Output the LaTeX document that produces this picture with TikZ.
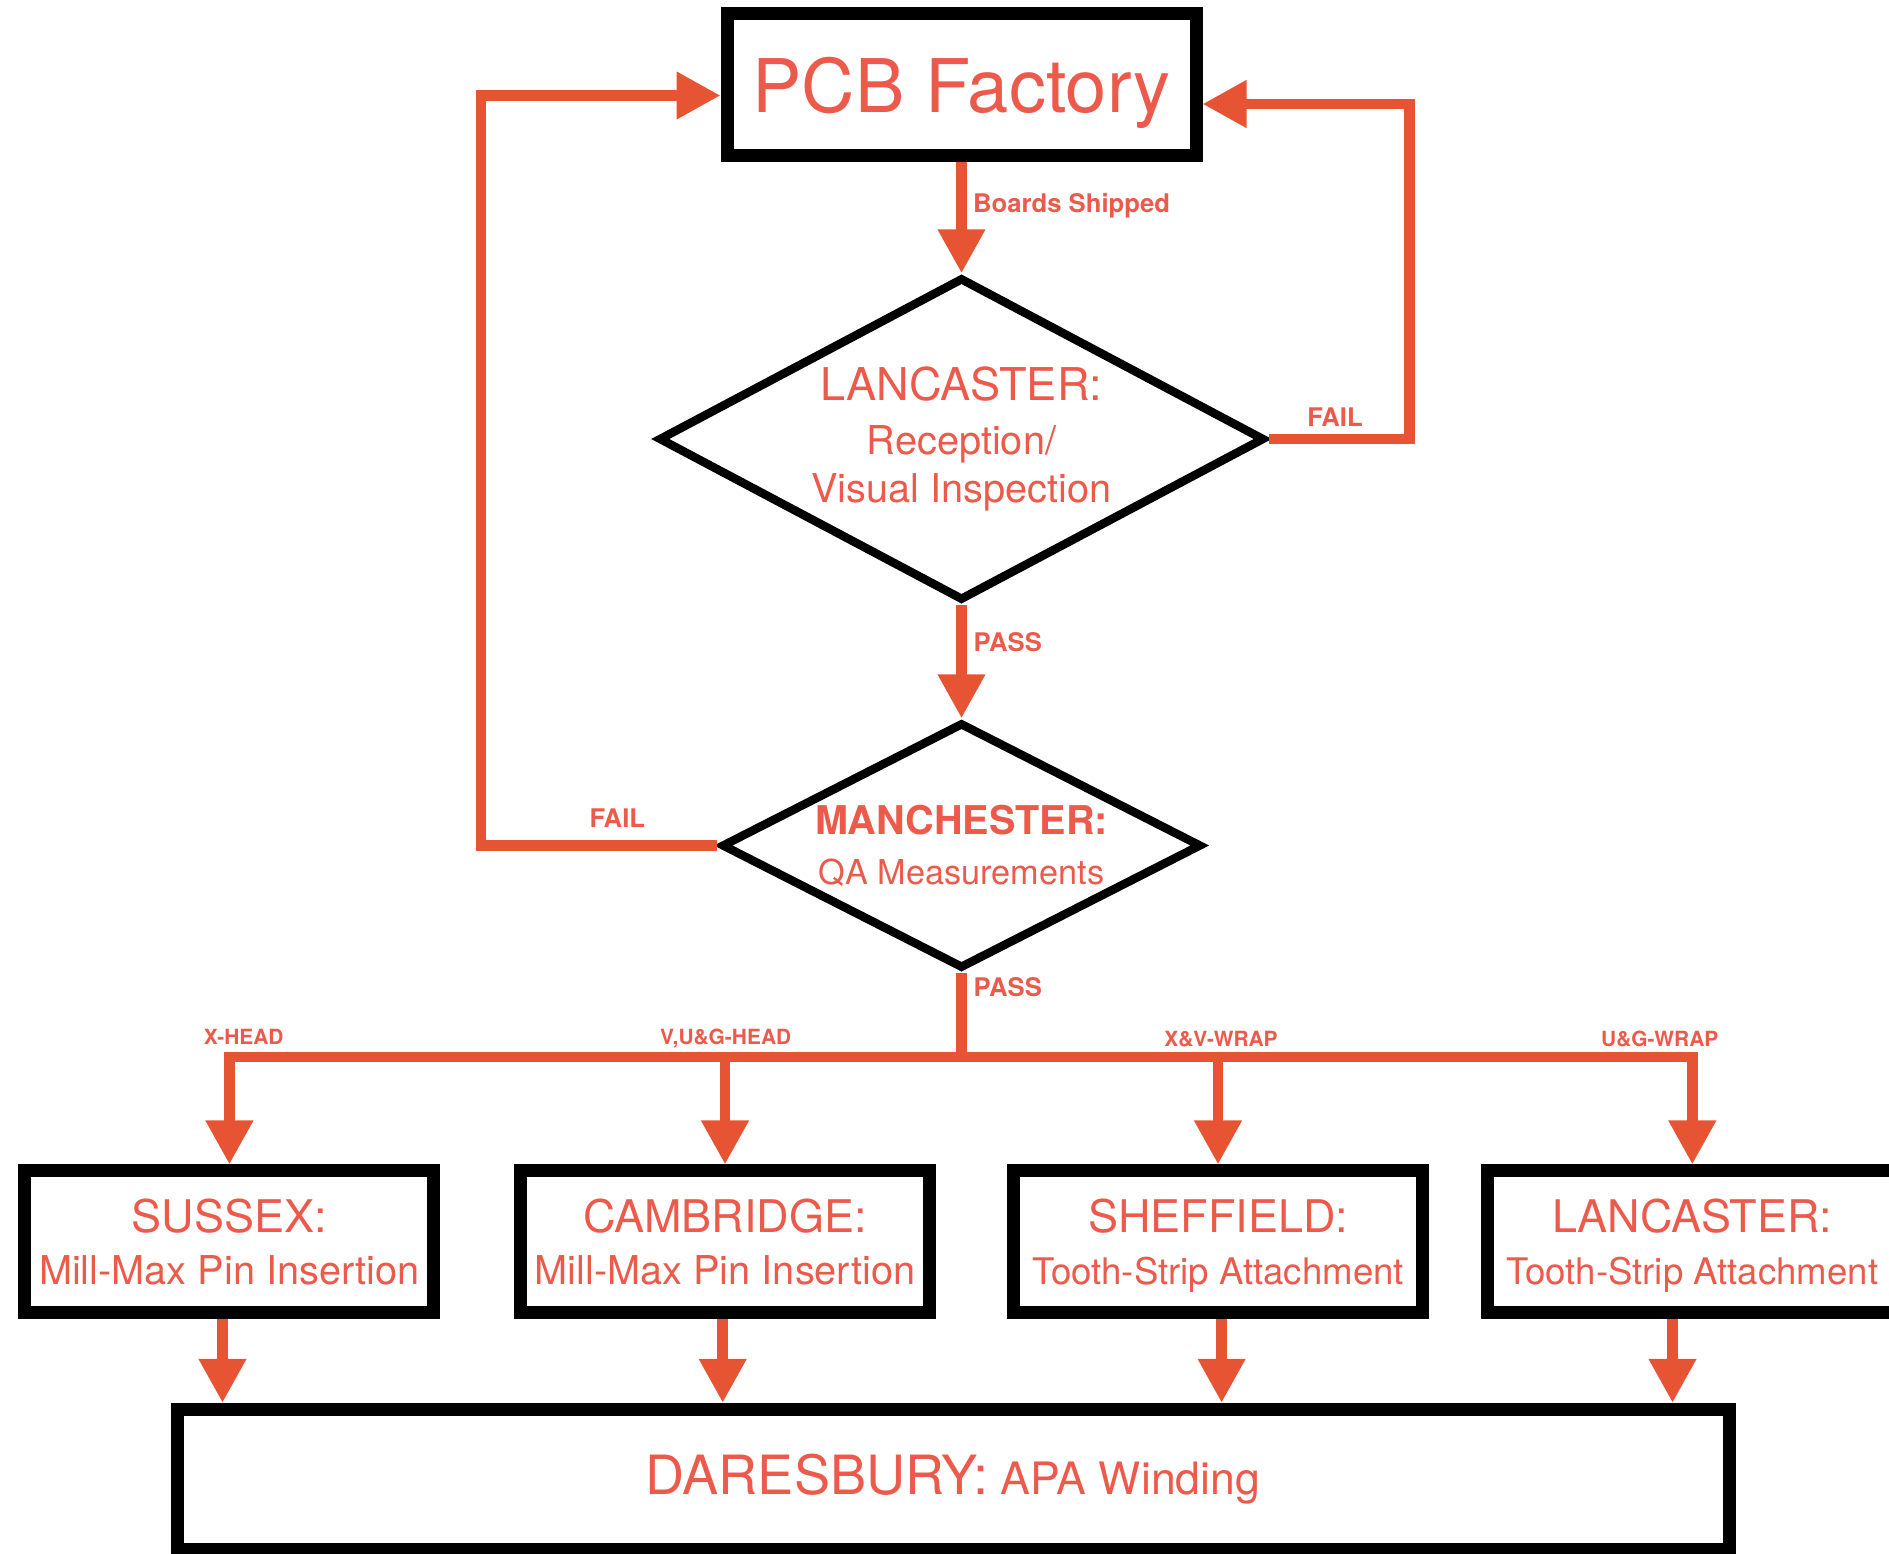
\documentclass[tikz,border=0pt]{standalone}
\usepackage{fontspec}
\setmainfont{TeX Gyre Heros}
\usepackage{xcolor}
\usepackage{tikz}
\usetikzlibrary{arrows.meta, shapes.geometric, calc}
\definecolor{flowred}{RGB}{231,84,52}
\definecolor{textred}{RGB}{236,90,76}
\newcommand{\fsz}[2]{\fontsize{#1pt}{#2pt}\selectfont}

\begin{document}
\begin{tikzpicture}[x=1cm, y=-1cm,
  flow/.style={draw=flowred, line width=0.105cm},
  flowtip/.style={-{Triangle[length=4.4mm, width=4.5mm]}},
  box/.style={draw=black, line width=0.13cm, rectangle, inner sep=0pt, text=textred, align=center},
  site/.style={box, minimum width=4.09cm, minimum height=1.415cm, text depth=0pt},
  decision/.style={draw=black, line width=0.085cm, diamond, inner sep=0pt, text=textred, align=center},
  lbl/.style={text=textred, font=\bfseries\fsz{7.3}{8.8}, inner sep=0pt},
  buslbl/.style={text=textred, font=\bfseries\fsz{5.95}{7}, inner sep=0pt, anchor=base}]
  % page is 18.89 x 15.53 cm, y runs downwards
  \useasboundingbox (0,0) rectangle (18.89,15.53);
  \clip (0,0) rectangle (18.89,15.53);

  % factory and the two checks
  \node[box, minimum width=4.69cm, minimum height=1.42cm, font=\fsz{21.05}{25}, text depth=0pt] (pcb) at (9.615,0.847) {PCB Factory};
  \node[decision, minimum width=6.06cm, minimum height=3.23cm, aspect=1.88, font=\fsz{11.3}{13.5}] (lanc) at (9.615,4.39)
    {{\fsz{12.85}{13.5}LANCASTER:}\\[1.8pt] Reception/\\ Visual Inspection};
  \node[decision, minimum width=4.80cm, minimum height=2.46cm, aspect=1.95, font=\fsz{9.75}{14.2}] (manc) at (9.615,8.455)
    {{\bfseries\fsz{11.27}{14.2}MANCHESTER:}\\ QA Measurements};

  % assembly sites
  \node[site, font=\fsz{11.3}{14.8}] (sussex) at (2.294,12.417) {{\fsz{12.8}{14.8}SUSSEX:}\\ Mill-Max Pin Insertion};
  \node[site, font=\fsz{11.3}{14.8}] (cambridge) at (7.25,12.417) {{\fsz{12.8}{14.8}CAMBRIDGE:}\\ Mill-Max Pin Insertion};
  \node[site, font=\fsz{10.42}{14.8}] (sheffield) at (12.18,12.417) {{\fsz{12.8}{14.8}SHEFFIELD:}\\ Tooth-Strip Attachment};
  \node[site, font=\fsz{10.42}{14.8}] (lancB) at (16.923,12.417) {{\fsz{12.8}{14.8}LANCASTER:}\\ Tooth-Strip Attachment};
  \node[box, minimum width=15.52cm, minimum height=1.402cm, font=\fsz{12.7}{14}] (dares) at (9.53,14.794)
    {{\fsz{15.4}{17}DARESBURY:} APA Winding};

  % labels on the connectors
  \node[lbl, anchor=base west] (shipped) at (9.725,2.123) {Boards Shipped};
  \node[lbl, anchor=base west] (failR) at (13.067,4.26) {FAIL};
  \node[lbl, anchor=base west] (passA) at (9.73,6.51) {PASS};
  \node[lbl, anchor=base west] (failL) at (5.89,8.273) {FAIL};
  \node[lbl, anchor=base west] (passB) at (9.73,9.96) {PASS};
  \node[buslbl] (xhead) at (2.437,10.443) {X-HEAD};
  \node[buslbl] (vughead) at (7.257,10.443) {V,U\&G-HEAD};
  \node[buslbl] (xvwrap) at (12.21,10.467) {X\&V-WRAP};
  \node[buslbl] (ugwrap) at (16.597,10.46) {U\&G-WRAP};

  % factory -> reception
  \draw[flow, flowtip] (pcb.south) -- (lanc.north);
  % reception fail loop
  \coordinate (failRcorner) at (14.095,1.04);
  \draw[flow, flowtip] (lanc.east) -| (failRcorner) -- (failRcorner -| pcb.east);
  % reception -> QA
  \draw[flow, flowtip] (lanc.south) -- (manc.north);
  % QA fail loop
  \coordinate (failLcorner) at (4.81,0.955);
  \draw[flow, flowtip] (manc.west) -| (failLcorner) -- (failLcorner -| pcb.west);
  % QA pass, split to the sites
  \coordinate (bus) at (9.615,10.57);
  \draw[flow] (manc.south) -- (bus);
  \foreach \s in {sussex, cambridge, sheffield, lancB}
    \draw[flow, flowtip] (bus) -| (\s.north);
  % sites -> winding
  \foreach \s/\x in {sussex/2.225, cambridge/7.227, sheffield/12.216, lancB/16.725} {
    \coordinate (drop) at (\x,14);
    \draw[flow, flowtip] (\s.south -| drop) -- (dares.north -| drop);
  }
\end{tikzpicture}
\end{document}
